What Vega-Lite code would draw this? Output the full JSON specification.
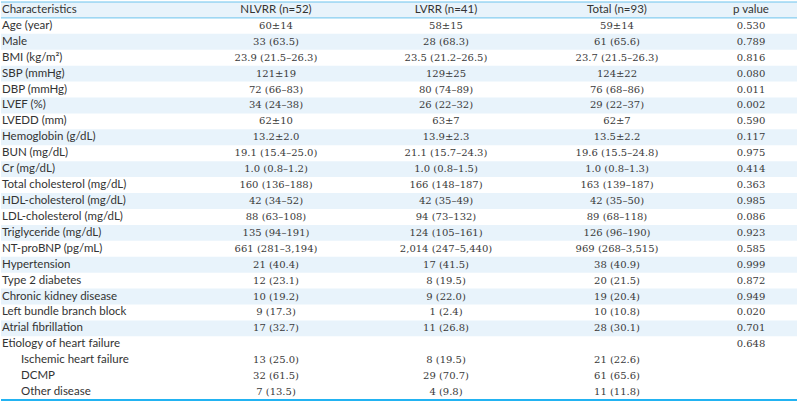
{
  "$schema": "https://vega.github.io/schema/vega-lite/v6.json",
  "width": 798,
  "height": 403,
  "autosize": {"type": "fit", "contains": "padding"},
  "padding": {"left": 0, "right": 0, "top": 1, "bottom": 2},
  "background": "white",
  "config": {"view": {"stroke": null}},
  "data": {
    "values": [
      {"r": 0, "level": 1, "label": "Characteristics", "NLVRR": "", "LVRR": "", "Total": "", "p": ""},
      {"r": 1, "level": 1, "label": "Age (year)", "NLVRR": "60±14", "LVRR": "58±15", "Total": "59±14", "p": "0.530"},
      {"r": 2, "level": 1, "label": "Male", "NLVRR": "33 (63.5)", "LVRR": "28 (68.3)", "Total": "61 (65.6)", "p": "0.789"},
      {"r": 3, "level": 1, "label": "BMI (kg/m²)", "NLVRR": "23.9 (21.5–26.3)", "LVRR": "23.5 (21.2–26.5)", "Total": "23.7 (21.5–26.3)", "p": "0.816"},
      {"r": 4, "level": 1, "label": "SBP (mmHg)", "NLVRR": "121±19", "LVRR": "129±25", "Total": "124±22", "p": "0.080"},
      {"r": 5, "level": 1, "label": "DBP (mmHg)", "NLVRR": "72 (66–83)", "LVRR": "80 (74–89)", "Total": "76 (68–86)", "p": "0.011"},
      {"r": 6, "level": 1, "label": "LVEF (%)", "NLVRR": "34 (24–38)", "LVRR": "26 (22–32)", "Total": "29 (22–37)", "p": "0.002"},
      {"r": 7, "level": 1, "label": "LVEDD (mm)", "NLVRR": "62±10", "LVRR": "63±7", "Total": "62±7", "p": "0.590"},
      {"r": 8, "level": 1, "label": "Hemoglobin (g/dL)", "NLVRR": "13.2±2.0", "LVRR": "13.9±2.3", "Total": "13.5±2.2", "p": "0.117"},
      {"r": 9, "level": 1, "label": "BUN (mg/dL)", "NLVRR": "19.1 (15.4–25.0)", "LVRR": "21.1 (15.7–24.3)", "Total": "19.6 (15.5–24.8)", "p": "0.975"},
      {"r": 10, "level": 1, "label": "Cr (mg/dL)", "NLVRR": "1.0 (0.8–1.2)", "LVRR": "1.0 (0.8–1.5)", "Total": "1.0 (0.8–1.3)", "p": "0.414"},
      {"r": 11, "level": 1, "label": "Total cholesterol (mg/dL)", "NLVRR": "160 (136–188)", "LVRR": "166 (148–187)", "Total": "163 (139–187)", "p": "0.363"},
      {"r": 12, "level": 1, "label": "HDL-cholesterol (mg/dL)", "NLVRR": "42 (34–52)", "LVRR": "42 (35–49)", "Total": "42 (35–50)", "p": "0.985"},
      {"r": 13, "level": 1, "label": "LDL-cholesterol (mg/dL)", "NLVRR": "88 (63–108)", "LVRR": "94 (73–132)", "Total": "89 (68–118)", "p": "0.086"},
      {"r": 14, "level": 1, "label": "Triglyceride (mg/dL)", "NLVRR": "135 (94–191)", "LVRR": "124 (105–161)", "Total": "126 (96–190)", "p": "0.923"},
      {"r": 15, "level": 1, "label": "NT-proBNP (pg/mL)", "NLVRR": "661 (281–3,194)", "LVRR": "2,014 (247–5,440)", "Total": "969 (268–3,515)", "p": "0.585"},
      {"r": 16, "level": 1, "label": "Hypertension", "NLVRR": "21 (40.4)", "LVRR": "17 (41.5)", "Total": "38 (40.9)", "p": "0.999"},
      {"r": 17, "level": 1, "label": "Type 2 diabetes", "NLVRR": "12 (23.1)", "LVRR": "8 (19.5)", "Total": "20 (21.5)", "p": "0.872"},
      {"r": 18, "level": 1, "label": "Chronic kidney disease", "NLVRR": "10 (19.2)", "LVRR": "9 (22.0)", "Total": "19 (20.4)", "p": "0.949"},
      {"r": 19, "level": 1, "label": "Left bundle branch block", "NLVRR": "9 (17.3)", "LVRR": "1 (2.4)", "Total": "10 (10.8)", "p": "0.020"},
      {"r": 20, "level": 1, "label": "Atrial fibrillation", "NLVRR": "17 (32.7)", "LVRR": "11 (26.8)", "Total": "28 (30.1)", "p": "0.701"},
      {"r": 21, "level": 1, "label": "Etiology of heart failure", "NLVRR": "", "LVRR": "", "Total": "", "p": "0.648"},
      {"r": 22, "level": 2, "label": "Ischemic heart failure", "NLVRR": "13 (25.0)", "LVRR": "8 (19.5)", "Total": "21 (22.6)", "p": ""},
      {"r": 23, "level": 2, "label": "DCMP", "NLVRR": "32 (61.5)", "LVRR": "29 (70.7)", "Total": "61 (65.6)", "p": ""},
      {"r": 24, "level": 2, "label": "Other disease", "NLVRR": "7 (13.5)", "LVRR": "4 (9.8)", "Total": "11 (11.8)", "p": ""}
    ]
  },
  "encoding": {
    "y": {
      "field": "r",
      "type": "ordinal",
      "axis": null,
      "scale": {
        "domain": [0, 1, 2, 3, 4, 5, 6, 7, 8, 9, 10, 11, 12, 13, 14, 15, 16, 17, 18, 19, 20, 21, 22, 23, 24],
        "paddingInner": 0,
        "paddingOuter": 0
      }
    }
  },
  "layer": [
    {
      "transform": [{"filter": "datum.r == 0 || (datum.r % 2 == 0 && datum.r <= 20)"}],
      "mark": {"type": "rect", "color": "#e8f3fb"},
      "encoding": {}
    },
    {
      "data": {"values": [{"r": 0}, {"r": 1}]},
      "mark": {"type": "rule", "color": "#6cc4ee", "strokeWidth": 1},
      "encoding": {"y": {"field": "r", "type": "ordinal", "bandPosition": 0}}
    },
    {
      "data": {"values": [{"r": 24}]},
      "mark": {"type": "rule", "color": "#22b3f2", "strokeWidth": 2},
      "encoding": {"y": {"field": "r", "type": "ordinal", "bandPosition": 1}}
    },
    {
      "transform": [{"filter": "datum.level == 1"}],
      "mark": {"type": "text", "align": "left", "baseline": "middle", "font": "Lato", "fontSize": 11.5, "color": "#333333"},
      "encoding": {
        "x": {"datum": 0, "type": "quantitative", "axis": null, "scale": {"domain": [0, 1, 2, 3, 4], "range": [1, 275, 445, 616, 750]}},
        "text": {"field": "label"}
      }
    },
    {
      "transform": [{"filter": "datum.level == 2"}],
      "mark": {"type": "text", "align": "left", "baseline": "middle", "dx": 19, "font": "Lato", "fontSize": 11.5, "color": "#333333"},
      "encoding": {
        "x": {"datum": 0, "type": "quantitative", "axis": null, "scale": {"domain": [0, 1, 2, 3, 4], "range": [1, 275, 445, 616, 750]}},
        "text": {"field": "label"}
      }
    },
    {
      "data": {"values": [
        {"r": 0, "c": 1, "t": "NLVRR (n=52)"},
        {"r": 0, "c": 2, "t": "LVRR (n=41)"},
        {"r": 0, "c": 3, "t": "Total (n=93)"},
        {"r": 0, "c": 4, "t": "p value"}
      ]},
      "mark": {"type": "text", "align": "center", "baseline": "middle", "font": "Lato", "fontSize": 11.5, "color": "#333333"},
      "encoding": {
        "x": {"field": "c", "type": "quantitative", "axis": null, "scale": {"domain": [0, 1, 2, 3, 4], "range": [1, 275, 445, 616, 750]}},
        "text": {"field": "t"}
      }
    },
    {
      "mark": {"type": "text", "align": "center", "baseline": "middle", "font": "DejaVu Serif", "fontSize": 10, "color": "#3a3a3a"},
      "encoding": {
        "x": {"datum": 1, "type": "quantitative", "axis": null, "scale": {"domain": [0, 1, 2, 3, 4], "range": [1, 275, 445, 616, 750]}},
        "text": {"field": "NLVRR"}
      }
    },
    {
      "mark": {"type": "text", "align": "center", "baseline": "middle", "font": "DejaVu Serif", "fontSize": 10, "color": "#3a3a3a"},
      "encoding": {
        "x": {"datum": 2, "type": "quantitative", "axis": null, "scale": {"domain": [0, 1, 2, 3, 4], "range": [1, 275, 445, 616, 750]}},
        "text": {"field": "LVRR"}
      }
    },
    {
      "mark": {"type": "text", "align": "center", "baseline": "middle", "font": "DejaVu Serif", "fontSize": 10, "color": "#3a3a3a"},
      "encoding": {
        "x": {"datum": 3, "type": "quantitative", "axis": null, "scale": {"domain": [0, 1, 2, 3, 4], "range": [1, 275, 445, 616, 750]}},
        "text": {"field": "Total"}
      }
    },
    {
      "mark": {"type": "text", "align": "center", "baseline": "middle", "font": "DejaVu Serif", "fontSize": 10, "color": "#3a3a3a"},
      "encoding": {
        "x": {"datum": 4, "type": "quantitative", "axis": null, "scale": {"domain": [0, 1, 2, 3, 4], "range": [1, 275, 445, 616, 750]}},
        "text": {"field": "p"}
      }
    }
  ]
}
